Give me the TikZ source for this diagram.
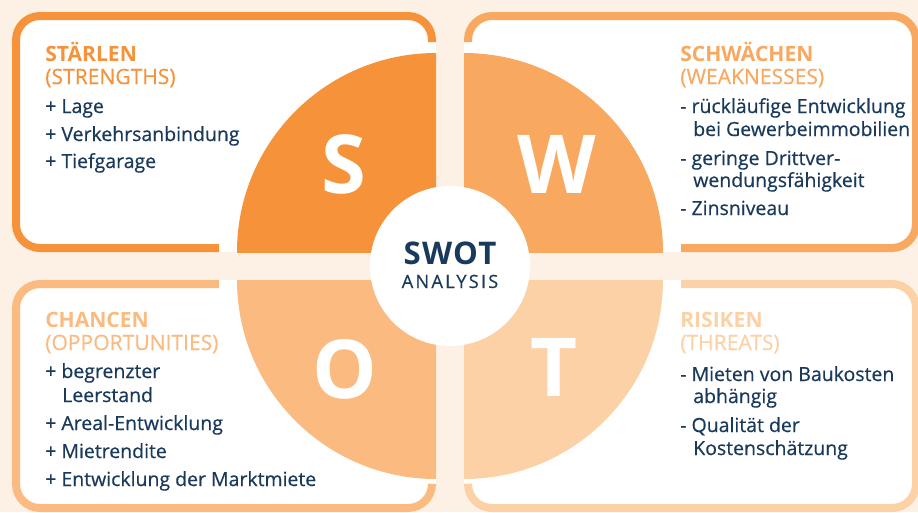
\documentclass[tikz,border=0pt]{standalone}
\usepackage{fontspec}
\setmainfont{Open Sans}
\definecolor{cS}{HTML}{F6933A}
\definecolor{cW}{HTML}{F8A85F}
\definecolor{cO}{HTML}{FBBB80}
\definecolor{cT}{HTML}{FCD1A5}
\definecolor{cream}{HTML}{FDF0E4}
\definecolor{navy}{HTML}{1A3A5C}
\tikzset{
  cardfill/.style={fill=white, rounded corners=21pt},
  cardline/.style={line width=6pt, rounded corners=18pt},
  ttl/.style={anchor=base west, inner sep=0pt, font=\fontsize{15.8pt}{17pt}\selectfont\bfseries},
  sub/.style={anchor=base west, inner sep=0pt, font=\fontsize{15.8pt}{17pt}\selectfont\addfontfeatures{FakeBold=0.3}},
  itm/.style={anchor=base west, inner sep=0pt, text=navy, font=\fontsize{14.6pt}{17pt}\selectfont\addfontfeatures{FakeBold=0.5}},
  big/.style={anchor=base, inner sep=0pt, text=white, font=\fontsize{61pt}{61pt}\selectfont\bfseries},
}
\begin{document}
\begin{tikzpicture}[x=0.75pt, y=-0.75pt]
\useasboundingbox (0,0) rectangle (918,512);
\fill[cream] (0,0) rectangle (918,512);
% cards
\fill[cardfill] (12,12) rectangle (436,252);
\fill[cardfill] (464,12) rectangle (920,252);
\fill[cardfill] (12,280) rectangle (436,512);
\fill[cardfill] (464,280) rectangle (920,512);
\draw[cardline, cS] (432,42) -- (432,16) -- (16,16) -- (16,248) -- (219,248);
\draw[cardline, cW] (468,42) -- (468,16) -- (916,16) -- (916,248) -- (681,248);
\draw[cardline, cO] (219,284) -- (16,284) -- (16,508) -- (432,508) -- (432,486);
\draw[cardline, cT] (681,284) -- (916,284) -- (916,508) -- (468,508) -- (468,486);
% quadrants
\begin{scope}
  \clip (436,252) rectangle (200,40);
  \fill[cS] (436,252) circle[radius=199];
\end{scope}
\begin{scope}
  \clip (464,252) rectangle (700,40);
  \fill[cW] (464,252) circle[radius=199];
\end{scope}
\begin{scope}
  \clip (436,280) rectangle (200,500);
  \fill[cO] (436,280) circle[radius=199];
\end{scope}
\begin{scope}
  \clip (464,280) rectangle (700,500);
  \fill[cT] (464,280) circle[radius=199];
\end{scope}
\node[circle, fill=white, minimum size=120pt, inner sep=0pt] (hub) at (450,266) {};
\node[anchor=base, inner sep=0pt, text=navy, font=\fontsize{23.4pt}{24pt}\selectfont\bfseries\addfontfeatures{LetterSpace=4}] (swot) at (450,264) {SWOT};
\node[anchor=base, inner sep=0pt, text=navy, font=\fontsize{13.7pt}{14pt}\selectfont\addfontfeatures{LetterSpace=12,FakeBold=0.4}] (analysis) at (450,288) {ANALYSIS};
% big letters
\node[big] (bS) at (344,193) {S};
\node[big] (bW) at (557,193) {W};
\node[big] (bO) at (345,398) {O};
\node[big] (bT) at (554,396) {T};
% top-left
\node[ttl, text=cS] (s1) at (45,61) {STÄRLEN};
\node[sub, text=cS] (s2) at (45,84) {(STRENGTHS)};
\node[itm] (s3) at (45,113) {+ Lage};
\node[itm] (s4) at (45,141) {+ Verkehrsanbindung};
\node[itm] (s5) at (45,168) {+ Tiefgarage};
% top-right
\node[ttl, text=cW] (w1) at (680,61) {SCHWÄCHEN};
\node[sub, text=cW] (w2) at (680,84) {(WEAKNESSES)};
\node[itm] (w3) at (680,113) {- rückläufige Entwicklung};
\node[itm] (w4) at (693,136) {bei Gewerbeimmobilien};
\node[itm] (w5) at (680,165) {- geringe Drittver-};
\node[itm] (w6) at (693,187) {wendungsfähigkeit};
\node[itm] (w7) at (680,215) {- Zinsniveau};
% bottom-left
\node[ttl, text=cO] (o1) at (45,327) {CHANCEN};
\node[sub, text=cO] (o2) at (45,350) {(OPPORTUNITIES)};
\node[itm] (o3) at (45,378) {+ begrenzter};
\node[itm] (o4) at (62,402) {Leerstand};
\node[itm] (o5) at (45,430) {+ Areal-Entwicklung};
\node[itm] (o6) at (45,458) {+ Mietrendite};
\node[itm] (o7) at (45,486) {+ Entwicklung der Marktmiete};
% bottom-right
\node[ttl, text=cT] (t1) at (680,327) {RISIKEN};
\node[sub, text=cT] (t2) at (680,350) {(THREATS)};
\node[itm] (t3) at (680,381) {- Mieten von Baukosten};
\node[itm] (t4) at (693,403) {abhängig};
\node[itm] (t5) at (680,432) {- Qualität der};
\node[itm] (t6) at (693,455) {Kostenschätzung};
\end{tikzpicture}
\end{document}
